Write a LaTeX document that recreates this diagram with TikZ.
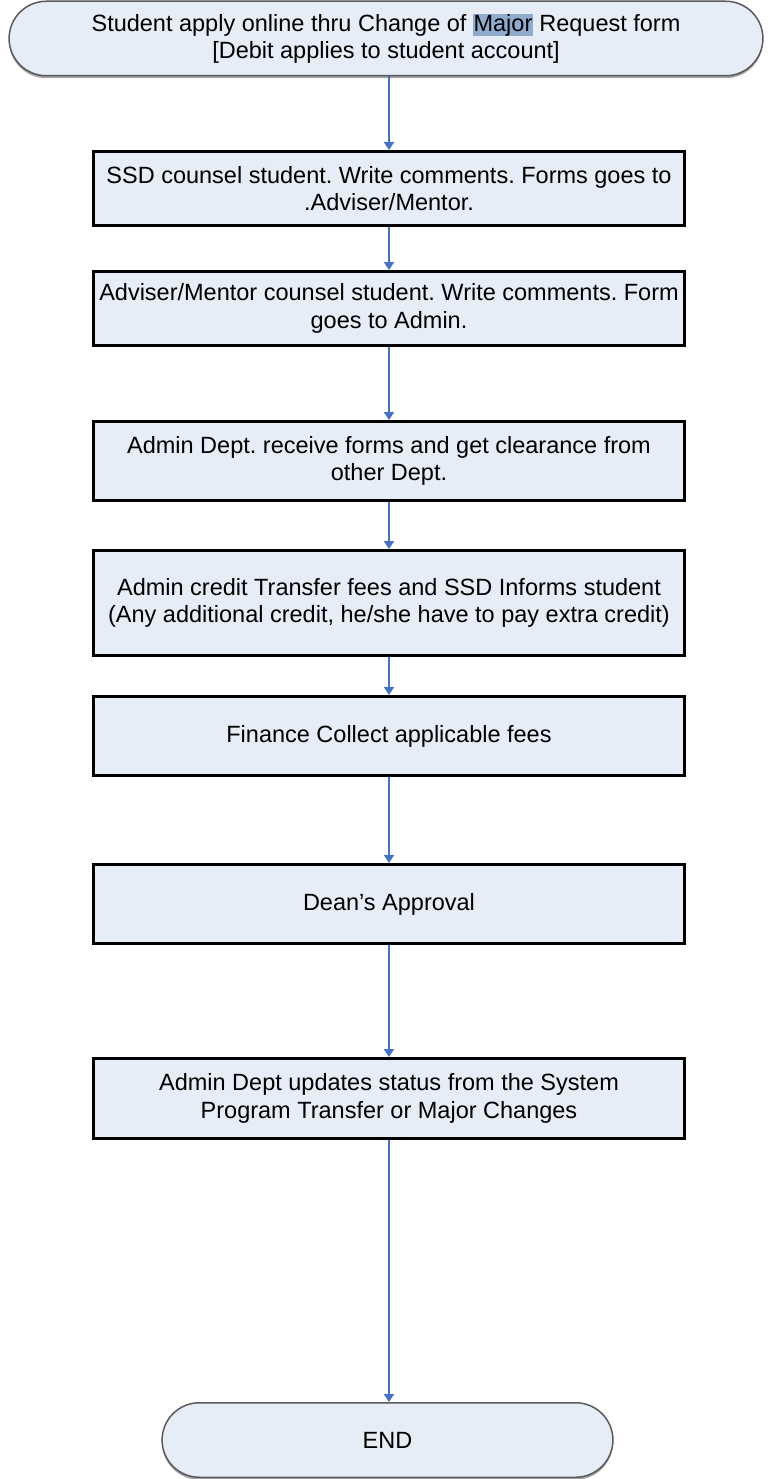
\documentclass[tikz,border=0pt]{standalone}
\usepackage{fontspec}
\setmainfont{Liberation Sans}
\usetikzlibrary{arrows.meta,shapes.misc,shadows}
\frenchspacing

\definecolor{boxfill}{HTML}{E7EDF7}
\definecolor{flowblue}{HTML}{4472C4}
\definecolor{termline}{HTML}{5A5A5A}
\definecolor{majorhl}{HTML}{8FACCF}

\tikzset{
  flowtext/.style={font=\fontsize{23.5}{27.5}\selectfont, text=black, align=center},
  stepbox/.style={flowtext, draw=black, line width=3pt, fill=boxfill,
    minimum width=591pt, inner sep=2pt},
  terminal/.style={flowtext, rounded rectangle, draw=termline, line width=1.5pt,
    fill=boxfill, minimum height=74.5pt,
    drop shadow={shadow xshift=0pt, shadow yshift=-2.5pt, opacity=0.35, fill=black}},
  flow/.style={draw=flowblue, line width=2pt,
    -{Triangle[length=8pt, width=10pt]}}
}

\begin{document}
\begin{tikzpicture}[x=1pt, y=-1pt]
  \useasboundingbox (0,0) rectangle (769,1479);

  \node[terminal, minimum width=760.5pt] (start) at (386,38.5)
    {Student apply online thru Change of {\setlength{\fboxsep}{0.5pt}\colorbox{majorhl}{Major}} Request form\\\relax
     [Debit applies to student account]};

  \node[stepbox, minimum height=74pt] (s1) at (389,188.5)
    {SSD counsel student. Write comments. Forms goes to\\ .Adviser/Mentor.};
  \node[stepbox, minimum height=74pt] (s2) at (389,308.5)
    {Adviser/Mentor counsel student. Write comments. Form\\ goes to Admin.};
  \node[stepbox, minimum height=79pt] (s3) at (389,461)
    {Admin Dept. receive forms and get clearance from\\ other Dept.};
  \node[stepbox, minimum height=105pt] (s4) at (389,603)
    {Admin credit Transfer fees and SSD Informs student\\ (Any additional credit, he/she have to pay extra credit)};
  \node[stepbox, minimum height=79pt] (s5) at (389,736)
    {Finance Collect applicable fees};
  \node[stepbox, minimum height=79pt] (s6) at (389,904)
    {Dean’s Approval};
  \node[stepbox, minimum height=80pt] (s7) at (389,1098.5)
    {Admin Dept updates status from the System\\ Program Transfer or Major Changes};

  \node[terminal, minimum width=457.5pt] (end) at (387.5,1440) {END};

  \draw[flow] (start.south -| s1.north) -- (s1.north);
  \draw[flow] (s1) -- (s2);
  \draw[flow] (s2) -- (s3);
  \draw[flow] (s3) -- (s4);
  \draw[flow] (s4) -- (s5);
  \draw[flow] (s5) -- (s6);
  \draw[flow] (s6) -- (s7);
  \draw[flow] (s7.south) -- (s7.south |- end.north);
\end{tikzpicture}
\end{document}
